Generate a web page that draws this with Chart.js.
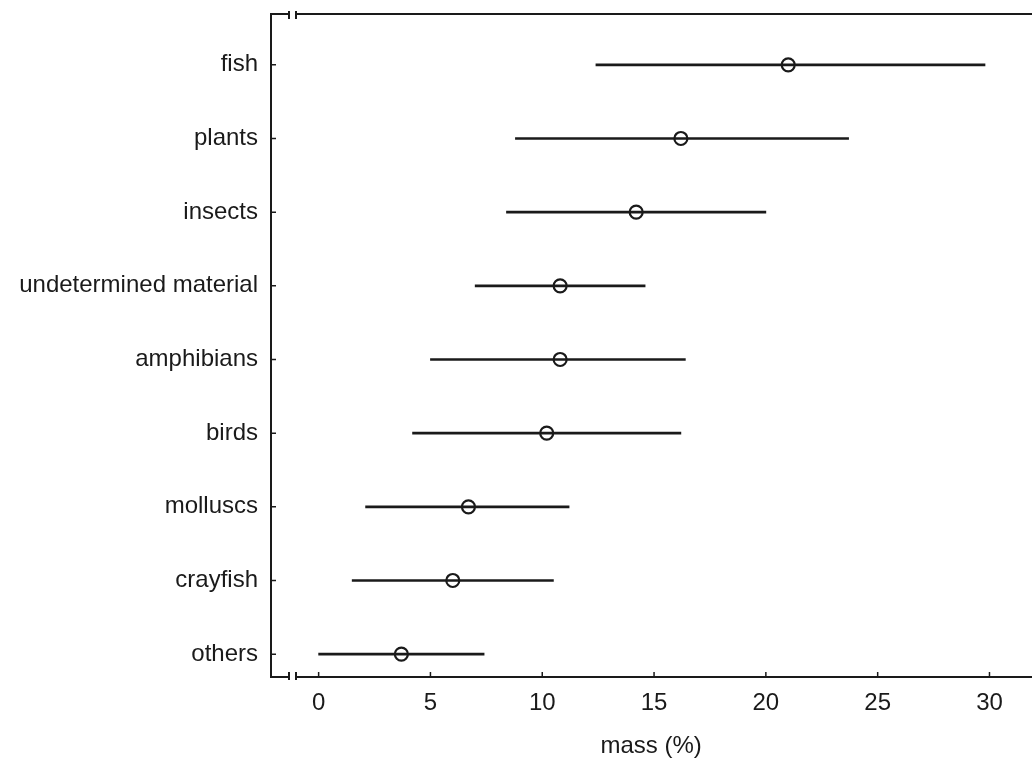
<!DOCTYPE html>
<html>
<head>
<meta charset="utf-8">
<script src="https://cdn.jsdelivr.net/npm/chart.js@4.4.0/dist/chart.umd.min.js"></script>
<style>
  html, body { margin: 0; padding: 0; background: #fff; overflow: hidden; }
  #wrap { width: 1032px; height: 758px; overflow: hidden; }
</style>
</head>
<body>
<div id="wrap"><canvas id="chart" width="1040" height="758"></canvas></div>
<script>
// categories, bottom to top
const categories = ["others", "crayfish", "molluscs", "birds", "amphibians",
  "undetermined material", "insects", "plants", "fish"];
const means = [3.7, 6.0, 6.7, 10.2, 10.8, 10.8, 14.2, 16.2, 21.0];
const lows  = [0.0, 1.5, 2.1, 4.2, 5.0, 7.0, 8.4, 8.8, 12.4];
const highs = [7.4, 10.5, 11.2, 16.2, 16.4, 14.6, 20.0, 23.7, 29.8];
const xTicks = [0, 5, 10, 15, 20, 25, 30];

const ink = "#1a1a1a";
const font = { family: "'Liberation Sans', Arial, sans-serif", size: 24 };

// box with axis breaks and inward ticks
const frame = {
  id: "frame",
  afterDraw(chart) {
    const { ctx, chartArea: a, scales } = chart;
    ctx.save();
    ctx.strokeStyle = ink;
    ctx.lineWidth = 2;
    const b1 = a.left + 18, b2 = a.left + 25;
    ctx.beginPath();
    ctx.moveTo(b1, a.top); ctx.lineTo(a.left, a.top); ctx.lineTo(a.left, a.bottom); ctx.lineTo(b1, a.bottom);
    ctx.moveTo(b2, a.top); ctx.lineTo(a.right + 10, a.top);
    ctx.moveTo(b2, a.bottom); ctx.lineTo(a.right + 10, a.bottom);
    [b1, b2].forEach(x => {
      ctx.moveTo(x, a.top - 3); ctx.lineTo(x, a.top + 5);
      ctx.moveTo(x, a.bottom - 5); ctx.lineTo(x, a.bottom + 3);
    });
    ctx.stroke();
    ctx.lineWidth = 1.5;
    ctx.beginPath();
    categories.forEach((c, i) => {
      const y = scales.y.getPixelForValue(i);
      ctx.moveTo(a.left, y); ctx.lineTo(a.left + 5, y);
    });
    xTicks.forEach(v => {
      const x = scales.x.getPixelForValue(v);
      ctx.moveTo(x, a.bottom); ctx.lineTo(x, a.bottom - 5);
    });
    ctx.stroke();
    ctx.restore();
  }
};

const noPad = s => { s.paddingTop = 0; s.paddingBottom = 0; s.paddingLeft = 0; s.paddingRight = 0; };

new Chart(document.getElementById("chart"), {
  data: {
    datasets: [
      {
        type: "bar",
        indexAxis: "y",
        data: categories.map((c, i) => ({ y: i, x: [lows[i], highs[i]] })),
        backgroundColor: ink,
        barThickness: 2,
        borderWidth: 0
      },
      {
        type: "scatter",
        data: categories.map((c, i) => ({ x: means[i], y: i })),
        pointRadius: 6.5,
        pointBorderWidth: 2.2,
        pointBackgroundColor: "#fff",
        pointBorderColor: ink
      }
    ]
  },
  options: {
    responsive: false,
    animation: false,
    devicePixelRatio: 1,
    layout: { padding: { top: 14, right: 4, left: 0, bottom: 0 } },
    plugins: { legend: { display: false }, tooltip: { enabled: false } },
    scales: {
      x: {
        type: "linear",
        offset: false,
        min: -2.13,
        max: 31.87,
        afterBuildTicks: s => { s.ticks = xTicks.map(v => ({ value: v })); },
        afterFit: s => { s.height = 81; noPad(s); },
        grid: { display: false },
        border: { display: false },
        ticks: { color: ink, font, padding: 4 },
        title: { display: true, text: "mass (%)", color: ink, font, padding: { top: 0, bottom: -3 } }
      },
      y: {
        type: "linear",
        offset: false,
        min: -0.31,
        max: 8.69,
        afterBuildTicks: s => { s.ticks = categories.map((c, i) => ({ value: i })); },
        afterFit: s => { s.width = 271; noPad(s); },
        grid: { display: false },
        border: { display: false },
        ticks: { color: ink, font, padding: 5, callback: v => categories[v] }
      }
    }
  },
  plugins: [frame]
});
</script>
</body>
</html>
